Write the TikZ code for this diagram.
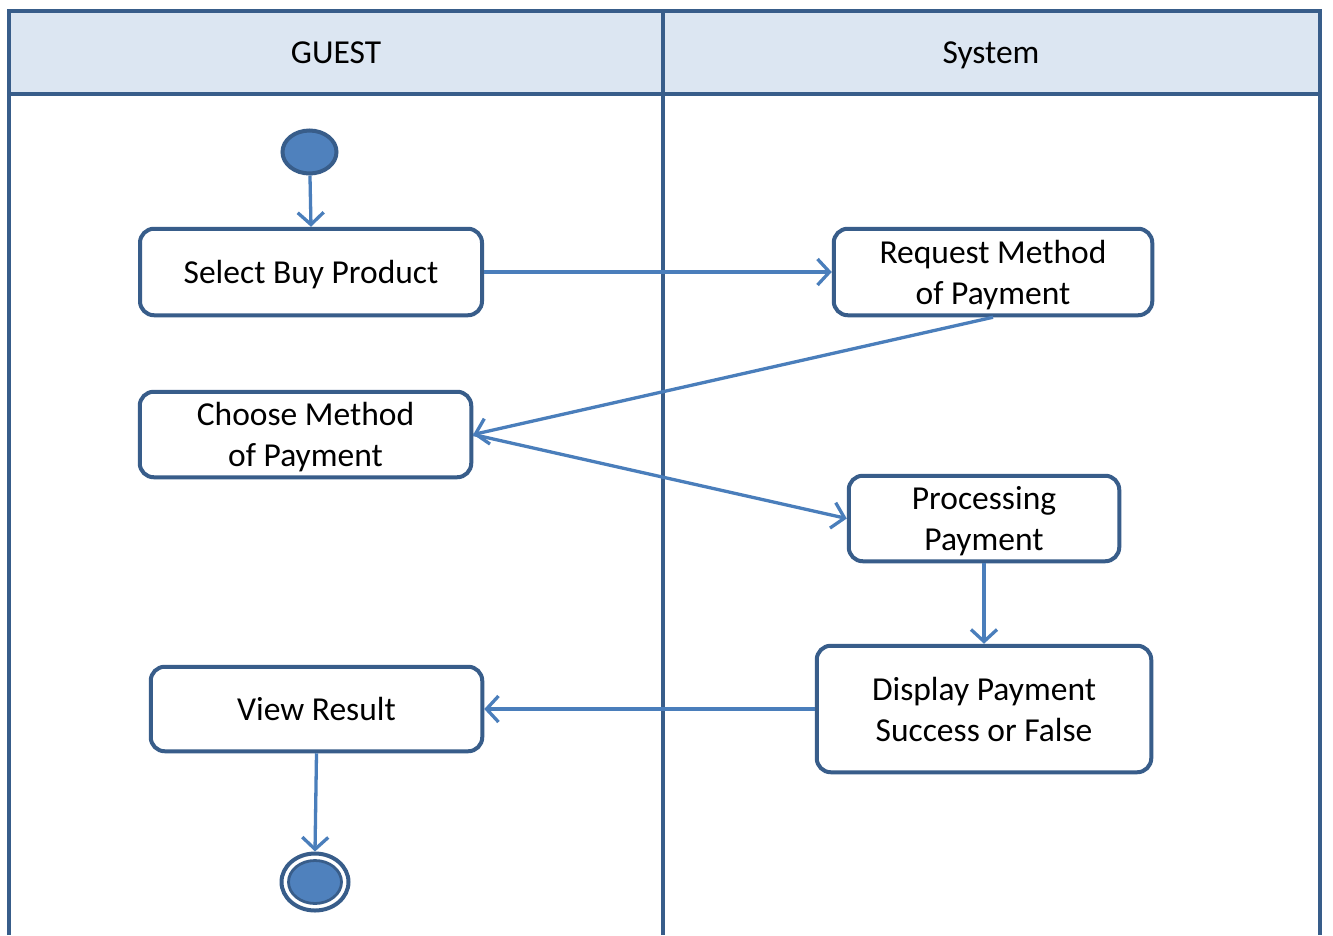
\documentclass[tikz,border=0pt]{standalone}
\usepackage{fontspec}
\setmainfont{Carlito}
\usetikzlibrary{arrows.meta,shapes.geometric}
\definecolor{frame}{HTML}{385D8A}
\definecolor{headfill}{HTML}{DCE6F2}
\definecolor{conn}{HTML}{4A7EBB}
\definecolor{dotfill}{HTML}{4F81BD}
\tikzset{
  act/.style={draw=frame, line width=4pt, rounded corners=14pt, fill=white, align=center, inner sep=0pt, text depth=0pt, font=\fontsize{33.5}{41}\selectfont},
  flow/.style={draw=conn, line width=3.3pt, -{Straight Barb[length=12pt,width=26pt,line width=3.3pt]}},
  lane/.style={draw=frame, line width=3.8pt},
  headtxt/.style={font=\fontsize{33.5}{41}\selectfont, inner sep=0pt, text depth=0pt}
}
\begin{document}
\begin{tikzpicture}[x=1pt,y=-1pt]
\useasboundingbox (0,0) rectangle (1333,935);
\fill[white] (0,0) rectangle (1333,935);
% header band
\fill[headfill] (9,11) rectangle (1320,94);
\draw[lane] (9,935) -- (9,11) -- (1320,11) -- (1320,935);
\draw[lane] (9,94) -- (1320,94);
\draw[lane] (663,11) -- (663,935);
\node[headtxt] (hguest) at (336,53) {GUEST};
\node[headtxt] (hsys) at (991,53) {System};
% nodes
\node[ellipse, draw=frame, fill=dotfill, line width=4pt, minimum width=54pt, minimum height=43pt, inner sep=0pt] (start) at (309.5,152) {};
\node[act, minimum width=342pt, minimum height=86.5pt] (sel) at (311,272) {Select Buy Product};
\node[act, minimum width=318.5pt, minimum height=86.5pt] (req) at (993,272) {Request Method\\of Payment};
\node[act, minimum width=331.5pt, minimum height=85.5pt] (cho) at (305.5,434.5) {Choose Method\\of Payment};
\node[act, minimum width=270.5pt, minimum height=85.5pt] (proc) at (984,518.5) {Processing\\Payment};
\node[act, minimum width=334.5pt, minimum height=126.5pt] (disp) at (984,709) {Display Payment\\Success or False};
\node[act, minimum width=331.5pt, minimum height=84.5pt] (view) at (316.5,709) {View Result};
\node[ellipse, draw=frame, fill=white, line width=4pt, minimum width=67pt, minimum height=57pt, inner sep=0pt] (end) at (315,882) {};
\node[ellipse, draw=frame, fill=dotfill, line width=2.8pt, minimum width=53pt, minimum height=43pt, inner sep=0pt] (endin) at (315,882) {};
% connectors
\draw[flow] (start) -- (sel.north);
\draw[flow] (sel.east) -- (req.west);
\draw[flow] (req.south) -- (cho.east);
\draw[flow] (cho.east) -- (proc.west);
\draw[flow] (proc.south) -- (disp.north);
\draw[flow] (disp.west) -- (view.east);
\draw[flow] (view.south) -- (end.north);
\end{tikzpicture}
\end{document}
